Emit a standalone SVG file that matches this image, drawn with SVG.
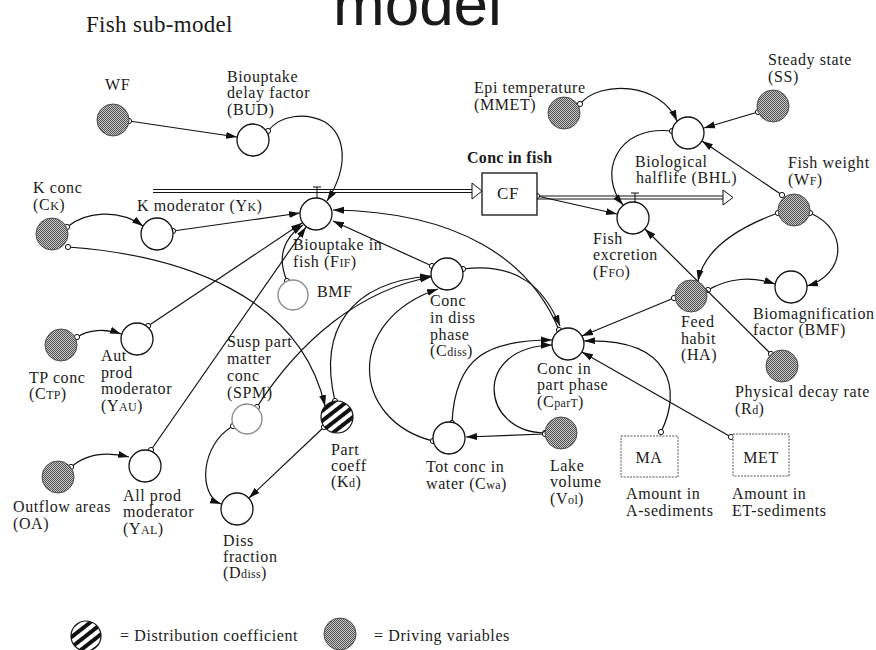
<svg xmlns="http://www.w3.org/2000/svg" width="876" height="650" viewBox="0 0 876 650">
<defs>
<pattern id="chk" width="2" height="2" patternUnits="userSpaceOnUse"><rect width="2" height="2" fill="#c4c4c4"/><rect width="1" height="1" fill="#555"/><rect x="1" y="1" width="1" height="1" fill="#555"/></pattern>
<pattern id="str" width="8" height="8" patternUnits="userSpaceOnUse" patternTransform="rotate(-38)"><rect width="8" height="8" fill="#fff"/><rect width="8" height="4" fill="#111"/></pattern>
<marker id="a" viewBox="0 0 11 8" refX="11" refY="4" markerWidth="11" markerHeight="8" markerUnits="userSpaceOnUse" orient="auto"><path d="M0,0.5 L11,4 L0,7.5 Z" fill="#111"/></marker>
<marker id="o" viewBox="0 0 8 8" refX="4" refY="4" markerWidth="8" markerHeight="8" markerUnits="userSpaceOnUse"><circle cx="4" cy="4" r="2.6" fill="#fff" stroke="#111" stroke-width="1"/></marker>
</defs>
<style>
text{font-family:"Liberation Serif","Times New Roman",serif;font-size:16px;letter-spacing:0.6px;fill:#1a1a1a}
.s{font-size:12px;letter-spacing:0.3px}
.n{fill:#fff;stroke:#111;stroke-width:1.3}
.dv{fill:url(#chk);stroke:#4a4a4a;stroke-width:1}
.gr{fill:#fff;stroke:#8c8c8c;stroke-width:1.4}
.st{fill:url(#str);stroke:#111;stroke-width:1.2}
.c{fill:none;stroke:#111;stroke-width:1.2;marker-start:url(#o);marker-end:url(#a)}
.p{fill:none;stroke:#111;stroke-width:1}
.bx{fill:#fff;stroke:#555;stroke-width:1;stroke-dasharray:2 1.2}
</style>
<rect width="876" height="650" fill="#fff"/>
<text x="86" y="32" style="font-size:23px;letter-spacing:0.3px">Fish sub-model</text>
<text x="333" y="25" style="font-family:'Liberation Sans',Arial,sans-serif;font-size:62px;letter-spacing:0">model</text>

<g id="connectors">
<path class="p" d="M153,189.5 H472 M153,192.5 H472"/>
<path d="M472,183 L482,191 L472,199 Z" fill="#fff" stroke="#111" stroke-width="1"/>
<path class="p" d="M537,196 H723 M537,199 H723"/>
<path d="M723,190 L733,197.5 L723,205 Z" fill="#fff" stroke="#111" stroke-width="1"/>
<path class="p" d="M313,187 H321 M317,187 V198"/>
<path class="p" d="M631,193 H639 M635,193 V202"/>
<path class="c" d="M129,121 L237,137"/>
<path class="c" d="M268,131 C280,115 305,112 325,122 C345,135 350,165 327,201"/>
<path class="c" d="M67,227 C85,212 118,208 143,226"/>
<path class="c" d="M173,231 L300,213"/>
<path class="c" d="M68,247 C180,255 300,295 325,406"/>
<path class="c" d="M77,337 C88,330 105,328 121,334"/>
<path class="c" d="M148,326 L302,223"/>
<path class="c" d="M71,467 C85,455 105,451 129,457"/>
<path class="c" d="M151,450 L306,227"/>
<path class="c" d="M233,426 C200,445 198,495 221,504"/>
<path class="c" d="M324,427 L249,498"/>
<path class="c" d="M335,401 C318,330 350,282 431,276"/>
<path class="c" d="M257,407 C300,340 360,290 431,277"/>
<path class="c" d="M432,266 L333,221"/>
<path class="c" d="M559,330 C530,260 460,212 333,210"/>
<path class="c" d="M463,269 C520,262 545,290 560,326"/>
<path class="c" d="M287,281 C277,258 283,238 303,225"/>
<path class="c" d="M674,298 L582,336"/>
<path class="c" d="M708,290 C728,278 752,276 775,284"/>
<path class="c" d="M778,213 C745,225 705,245 698,281"/>
<path class="c" d="M810,213 C850,230 845,275 807,286"/>
<path class="c" d="M782,195 L702,141"/>
<path class="c" d="M758,112 L704,128"/>
<path class="c" d="M580,104 C600,80 660,82 677,121"/>
<path class="c" d="M672,131 C615,125 598,175 623,205"/>
<path class="c" d="M537,196 L617,214"/>
<path class="c" d="M771,354 L645,229"/>
<path class="c" d="M661,432 C682,390 672,338 584,341"/>
<path class="c" d="M731,437 L582,352"/>
<path class="c" d="M545,433 C480,432 472,347 552,345"/>
<path class="c" d="M452,423 C455,355 490,340 552,340"/>
<path class="c" d="M545,434 L466,437"/>
<path class="c" d="M433,441 C350,420 345,320 438,289"/>
</g>

<g id="WF"><circle class="dv" cx="113" cy="120" r="16"/><text x="105" y="90">WF</text></g>
<g id="BUD"><circle class="n" cx="253" cy="140" r="16"/><text x="227" y="82">Biouptake</text><text x="227" y="98">delay factor</text><text x="227" y="115">(BUD)</text></g>
<g id="CK"><circle class="dv" cx="52" cy="234" r="16"/><text x="33" y="193">K conc</text><text x="33" y="210">(C<tspan class="s">K</tspan>)</text></g>
<g id="YK"><circle class="n" cx="157" cy="234" r="16"/><text x="137" y="211">K moderator (Y<tspan class="s">K</tspan>)</text></g>
<g id="FIF"><circle class="n" cx="316" cy="214" r="16"/><text x="293" y="250">Biouptake in</text><text x="293" y="267">fish (F<tspan class="s">IF</tspan>)</text></g>
<g id="BMF1"><circle class="gr" cx="293" cy="295" r="15"/><text x="317" y="297">BMF</text></g>
<g id="CTP"><circle class="dv" cx="61" cy="345" r="16"/><text x="29" y="383">TP conc</text><text x="29" y="399">(C<tspan class="s">TP</tspan>)</text></g>
<g id="YAU"><circle class="n" cx="137" cy="339" r="16"/><text x="101" y="361">Aut</text><text x="101" y="378">prod</text><text x="101" y="394">moderator</text><text x="101" y="411">(Y<tspan class="s">AU</tspan>)</text></g>
<g id="OA"><circle class="dv" cx="58" cy="477" r="16"/><text x="13" y="512">Outflow areas</text><text x="13" y="529">(OA)</text></g>
<g id="YAL"><circle class="n" cx="145" cy="466" r="16"/><text x="123" y="501">All prod</text><text x="123" y="517">moderator</text><text x="123" y="534">(Y<tspan class="s">AL</tspan>)</text></g>
<g id="SPM"><circle class="gr" cx="247" cy="419" r="15"/><text x="227" y="347">Susp part</text><text x="227" y="364">matter</text><text x="227" y="381">conc</text><text x="227" y="398">(SPM)</text></g>
<g id="Kd"><circle class="st" cx="337" cy="417" r="16"/><text x="331" y="455">Part</text><text x="331" y="471">coeff</text><text x="331" y="487">(K<tspan class="s">d</tspan>)</text></g>
<g id="Ddiss"><circle class="n" cx="237" cy="509" r="16"/><text x="223" y="546">Diss</text><text x="223" y="562">fraction</text><text x="223" y="578">(D<tspan class="s">diss</tspan>)</text></g>
<g id="Cdiss"><circle class="n" cx="447" cy="274" r="16"/><text x="430" y="306">Conc</text><text x="430" y="323">in diss</text><text x="430" y="340">phase</text><text x="430" y="356">(C<tspan class="s">diss</tspan>)</text></g>
<g id="Cwa"><circle class="n" cx="449" cy="438" r="16"/><text x="426" y="472">Tot conc in</text><text x="426" y="489">water (C<tspan class="s">wa</tspan>)</text></g>
<g id="Vol"><circle class="dv" cx="561" cy="433" r="16"/><text x="550" y="471">Lake</text><text x="550" y="487">volume</text><text x="550" y="504">(V<tspan class="s">ol</tspan>)</text></g>
<g id="CparT"><circle class="n" cx="568" cy="344" r="16"/><text x="537" y="374">Conc in</text><text x="537" y="390">part phase</text><text x="537" y="407">(C<tspan class="s">parT</tspan>)</text></g>
<g id="MA"><rect class="bx" x="621" y="436" width="57" height="41"/><text x="649" y="463" text-anchor="middle">MA</text><text x="626" y="499">Amount in</text><text x="626" y="516">A-sediments</text></g>
<g id="MET"><rect class="bx" x="733" y="434" width="56" height="42"/><text x="761" y="463" text-anchor="middle">MET</text><text x="732" y="499">Amount in</text><text x="732" y="516">ET-sediments</text></g>
<g id="CF"><rect x="482" y="173" width="55" height="42" fill="#fff" stroke="#111" stroke-width="1.3"/><text x="508" y="199" text-anchor="middle" style="font-size:17px">CF</text><text x="467" y="163" style="font-weight:bold;letter-spacing:0.3px">Conc in fish</text></g>
<g id="FFO"><circle class="n" cx="633" cy="218" r="16"/><text x="593" y="244">Fish</text><text x="593" y="260">excretion</text><text x="593" y="277">(F<tspan class="s">FO</tspan>)</text></g>
<g id="MMET"><circle class="dv" cx="564" cy="113" r="16"/><text x="474" y="93">Epi temperature</text><text x="474" y="110">(MMET)</text></g>
<g id="BHL"><circle class="n" cx="688" cy="133" r="16"/><text x="635" y="167">Biological</text><text x="636" y="183">halflife (BHL)</text></g>
<g id="SS"><circle class="dv" cx="773" cy="106" r="16"/><text x="768" y="65">Steady state</text><text x="768" y="82">(SS)</text></g>
<g id="WFish"><circle class="dv" cx="794" cy="210" r="16"/><text x="788" y="168">Fish weight</text><text x="788" y="185">(W<tspan class="s">F</tspan>)</text></g>
<g id="HA"><circle class="dv" cx="691" cy="296" r="16"/><text x="681" y="327">Feed</text><text x="681" y="344">habit</text><text x="681" y="360">(HA)</text></g>
<g id="BMF2"><circle class="n" cx="791" cy="287" r="16"/><text x="753" y="319">Biomagnification</text><text x="753" y="335">factor (BMF)</text></g>
<g id="Rd"><circle class="dv" cx="782" cy="366" r="16"/><text x="735" y="397">Physical decay rate</text><text x="735" y="414">(R<tspan class="s">d</tspan>)</text></g>

<g id="legend">
<circle class="st" cx="86" cy="636" r="15"/><text x="120" y="641">= Distribution coefficient</text>
<circle class="dv" cx="340" cy="634" r="16"/><text x="374" y="641">= Driving variables</text>
</g>
</svg>
